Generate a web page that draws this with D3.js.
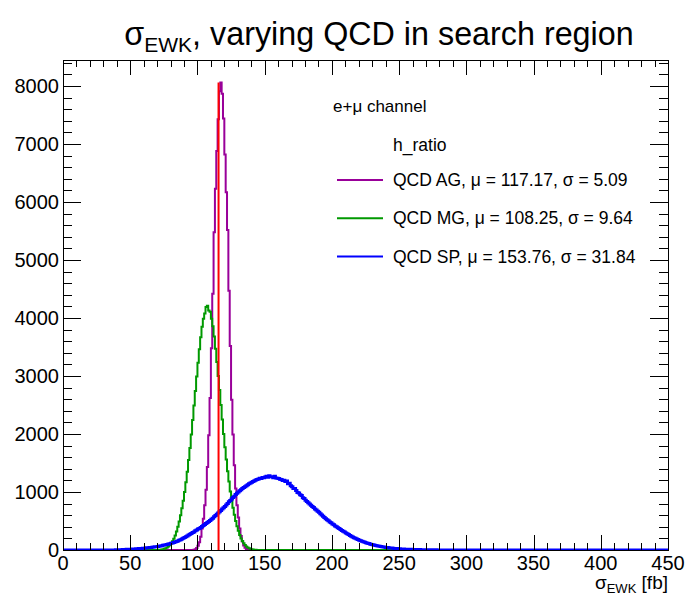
<!DOCTYPE html>
<html>
<head>
<meta charset="utf-8">
<script src="https://cdn.jsdelivr.net/npm/d3@7"></script>
<style>
  body { margin: 0; background: #fff; }
  svg text { font-family: "Liberation Sans", Arial, Helvetica, sans-serif; fill: #000; }
</style>
</head>
<body>
<svg id="chart" width="687" height="601"></svg>
<script>
// histogram axis: 450 bins of 1 fb from 0 to 450
const binRange = [0, 450];
const yRange = [0, 8450];
const xMajorTicks = [0, 50, 100, 150, 200, 250, 300, 350, 400, 450];
const yMajorTicks = [0, 1000, 2000, 3000, 4000, 5000, 6000, 7000, 8000];

// QCD AG (first bin = agStart)
const agStart = 97;
const agCounts = [6, 14, 35, 75, 135, 230, 370, 540, 770, 1040,
  1430, 1980, 2620, 3480, 4420, 5480, 6230, 6880, 7430, 7910,
  8060, 7870, 7440, 6820, 6170, 5520, 4470, 3520, 2590, 1990,
  1460, 1060, 770, 560, 370, 240, 145, 78, 38, 16, 7];

// QCD MG
const mgStart = 69;
const mgCounts = [1, 2, 3, 5, 8, 13, 20, 30, 42, 60,
  82, 112, 150, 195, 250, 320, 400, 490, 600, 720,
  850, 1000, 1170, 1350, 1550, 1760, 1990, 2240, 2490, 2740,
  2990, 3230, 3460, 3670, 3850, 3990, 4080, 4190, 4210, 4130,
  4110, 3990, 3860, 3680, 3470, 3240, 3000, 2760, 2500, 2250,
  2000, 1770, 1560, 1360, 1180, 1010, 860, 730, 610, 500,
  410, 330, 260, 200, 155, 115, 85, 62, 44, 31,
  21, 14, 9, 6, 4, 2, 1];

// QCD SP
const spStart = 38;
const spCounts = [2, 3, 3, 4, 5, 6, 7,
  8, 9, 11, 12, 14,
  15, 16, 18, 19, 21,
  22, 24, 26, 28, 30,
  32, 35, 37, 40, 42,
  45, 48, 52, 55, 58,
  62, 66, 70, 75, 80,
  85, 90, 97, 103, 108,
  115, 122, 130, 138, 147,
  155, 166, 178, 190, 202,
  215, 228, 243, 257, 270,
  285, 300, 312, 330, 345,
  360, 372, 390, 405, 422,
  440, 455, 474, 492, 510,
  530, 548, 572, 595, 615,
  640, 661, 683, 707, 728,
  750, 776, 801, 830, 852,
  880, 905, 928, 955, 978,
  1000, 1022, 1041, 1060, 1076,
  1090, 1108, 1126, 1142, 1155,
  1170, 1180, 1195, 1208, 1214,
  1225, 1238, 1233, 1252, 1247,
  1260, 1271, 1255, 1280, 1262,
  1265, 1248, 1270, 1243, 1239,
  1235, 1222, 1216, 1198, 1203,
  1180, 1192, 1141, 1150, 1108,
  1090, 1060, 1061, 1028, 990,
  985, 951, 938, 902, 890,
  860, 838, 815, 792, 771,
  750, 731, 707, 688, 670,
  650, 626, 605, 583, 562,
  540, 522, 503, 484, 468,
  450, 434, 416, 401, 385,
  370, 354, 338, 323, 309,
  295, 281, 266, 251, 238,
  225, 213, 201, 190, 180,
  170, 160, 150, 141, 133,
  125, 117, 110, 103, 96,
  90, 85, 79, 74, 69,
  65, 61, 56, 52, 48,
  45, 42, 38, 35, 33,
  30, 28, 26, 24, 22,
  20, 19, 17, 16, 15,
  14, 13, 12, 11, 11,
  10, 9, 9, 8, 7,
  7, 6, 6, 5, 5,
  5, 4, 4, 4, 3,
  3, 3, 3, 2, 2,
  2, 2, 2, 1, 1, 1, 1, 1, 1, 1,
  1, 1, 1, 0, 1, 0, 1, 0, 0, 1];

const series = [
  { name: 'QCD AG', mu: '117.17', sigma: '5.09', start: agStart, counts: agCounts, color: '#990099', width: 2 },
  { name: 'QCD MG', mu: '108.25', sigma: '9.64', start: mgStart, counts: mgCounts, color: '#009900', width: 2 },
  { name: 'QCD SP', mu: '153.76', sigma: '31.84', start: spStart, counts: spCounts, color: '#0000ff', width: 3 },
];

// reference value (red line)
const refX = 115.7;
const refTop = 8060;

const cs = {
  frame: { left: 63, right: 668, top: 60, bottom: 550 },
  x: { majorLen: 14.7, minorLen: 7.3, minorStep: 10 },
  y: { majorLen: 18, minorLen: 9, minorStep: 200 },
};

const svg = d3.select('#chart');
const f = cs.frame;

cs.x.scale = d3.scaleLinear().domain(binRange).range([f.left, f.right]);
cs.y.scale = d3.scaleLinear().domain(yRange).range([f.bottom, f.top]);

svg.append('defs').append('clipPath').attr('id', 'clip')
  .append('rect')
  .attr('x', f.left).attr('y', f.top)
  .attr('width', f.right - f.left).attr('height', f.bottom - f.top);

// full bin arrays
const toBins = (s) => {
  const pts = [];
  for (let b = binRange[0]; b < binRange[1]; b++) {
    const k = b - s.start;
    const v = k >= 0 && k < s.counts.length ? s.counts[k] : 0;
    pts.push({ x: b, y: v });
  }
  pts.push({ x: binRange[1], y: pts[pts.length - 1].y });
  return pts;
};

const line = d3.line()
  .x(d => cs.x.scale(d.x))
  .y(d => cs.y.scale(d.y))
  .curve(d3.curveStepAfter);

const plot = svg.append('g').attr('clip-path', 'url(#clip)');
series.forEach((s) => {
  plot.append('path')
    .attr('d', line(toBins(s)))
    .attr('fill', 'none')
    .attr('stroke', s.color)
    .attr('stroke-width', s.width)
    .attr('stroke-linejoin', 'miter');
});

plot.append('line')
  .attr('x1', cs.x.scale(refX)).attr('x2', cs.x.scale(refX))
  .attr('y1', cs.y.scale(0)).attr('y2', cs.y.scale(refTop))
  .attr('stroke', '#ff0000')
  .attr('stroke-width', 2);

// frame and ticks on all four sides
const axes = svg.append('g').attr('stroke', '#000').attr('stroke-width', 1).attr('shape-rendering', 'crispEdges');
axes.append('rect')
  .attr('x', f.left).attr('y', f.top)
  .attr('width', f.right - f.left).attr('height', f.bottom - f.top)
  .attr('fill', 'none');

const xTicks = d3.range(binRange[0], binRange[1] + 0.001, cs.x.minorStep);
xTicks.forEach((v) => {
  const len = v % 50 === 0 ? cs.x.majorLen : cs.x.minorLen;
  const px = Math.round(cs.x.scale(v)) + 0.5;
  axes.append('line').attr('x1', px).attr('x2', px).attr('y1', f.bottom).attr('y2', f.bottom - len);
  axes.append('line').attr('x1', px).attr('x2', px).attr('y1', f.top).attr('y2', f.top + len);
});

const yTicks = d3.range(0, yRange[1], cs.y.minorStep);
yTicks.forEach((v) => {
  const len = v % 1000 === 0 ? cs.y.majorLen : cs.y.minorLen;
  const py = Math.round(cs.y.scale(v)) + 0.5;
  axes.append('line').attr('x1', f.left).attr('x2', f.left + len).attr('y1', py).attr('y2', py);
  axes.append('line').attr('x1', f.right).attr('x2', f.right - len).attr('y1', py).attr('y2', py);
});

// tick labels
svg.append('g').selectAll('text').data(xMajorTicks).join('text')
  .attr('x', d => cs.x.scale(d))
  .attr('y', f.bottom + 20)
  .attr('text-anchor', 'middle')
  .attr('font-size', 20)
  .text(d => d);

svg.append('g').selectAll('text').data(yMajorTicks).join('text')
  .attr('x', f.left - 4)
  .attr('y', d => cs.y.scale(d) + 7)
  .attr('text-anchor', 'end')
  .attr('font-size', 20)
  .text(d => d);

// axis title
const xt = svg.append('text')
  .attr('x', f.right)
  .attr('y', 589)
  .attr('text-anchor', 'end')
  .attr('font-size', 19);
xt.append('tspan').text('σ');
xt.append('tspan').attr('font-size', 13).attr('dy', 4).text('EWK');
xt.append('tspan').attr('dy', -4).text(' [fb]');

// title
const title = svg.append('text')
  .attr('x', 379)
  .attr('y', 45)
  .attr('text-anchor', 'middle')
  .attr('font-size', 32.3);
title.append('tspan').text('σ');
title.append('tspan').attr('font-size', 21).attr('dy', 7).text('EWK');
title.append('tspan').attr('dy', -7).text(', varying QCD in search region');

// legend
const leg = svg.append('g');
leg.append('text').attr('x', 333).attr('y', 112).attr('font-size', 17).text('e+μ channel');
leg.append('text').attr('x', 393).attr('y', 151).attr('font-size', 17.5).text('h_ratio');
series.forEach((s, i) => {
  const y = 180 + i * 38.3;
  leg.append('line')
    .attr('x1', 337).attr('x2', 383)
    .attr('y1', y).attr('y2', y)
    .attr('stroke', s.color)
    .attr('stroke-width', 2);
  leg.append('text')
    .attr('x', 393).attr('y', y + 6)
    .attr('font-size', 17.5)
    .text(`${s.name}, μ = ${s.mu}, σ = ${s.sigma}`);
});
</script>
</body>
</html>
